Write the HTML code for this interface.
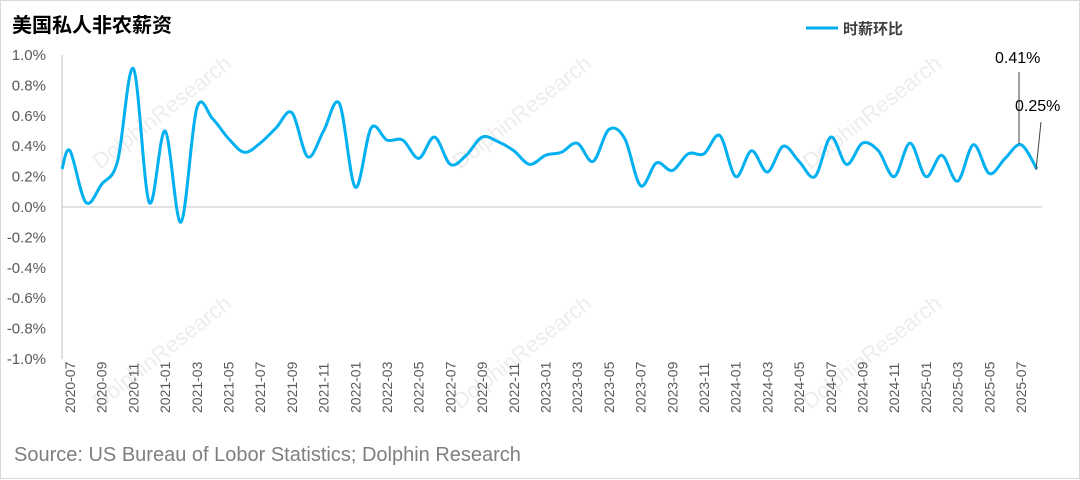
<!DOCTYPE html>
<html><head><meta charset="utf-8"><style>
html,body{margin:0;padding:0;background:#fff}
svg{display:block}
</style></head><body>
<svg id="c" width="1080" height="480" xmlns="http://www.w3.org/2000/svg" font-family="Liberation Sans, Noto Sans CJK SC, sans-serif">
<rect x="0.5" y="0.5" width="1079" height="478" fill="#fff" stroke="#d9d9d9"/>
<text x="12" y="32" font-size="20" font-weight="bold" fill="#000" font-family="Liberation Sans, Noto Sans CJK SC, sans-serif">美国私人非农薪资</text>
<line x1="806" y1="28" x2="838" y2="28" stroke="#00b0f0" stroke-width="3"/>
<text x="843" y="34" font-size="15" font-weight="bold" fill="#404040">时薪环比</text>
<g id="wm" fill="#ededed" font-size="22"></g>
<line x1="62" y1="207" x2="1042" y2="207" stroke="#d9d9d9" stroke-width="1.5"/>
<line x1="62" y1="55" x2="62" y2="359" stroke="#bfbfbf"/>
<g id="yl" font-size="15" fill="#595959" text-anchor="end"></g>
<g id="xl" font-size="14" fill="#595959"></g>
<path id="ln" fill="none" stroke="#00b0f0" stroke-width="3" stroke-linejoin="round"/>
<line x1="1019" y1="144" x2="1019" y2="72" stroke="#404040"/>
<line x1="1036" y1="170" x2="1041" y2="122" stroke="#404040"/>
<text x="995" y="63" font-size="16" fill="#000">0.41%</text>
<text x="1015" y="111" font-size="16" fill="#000">0.25%</text>
<text x="14" y="461" font-size="20" fill="#7f7f7f">Source: US Bureau of Lobor Statistics; Dolphin Research</text>
</svg>
<script>
var NS="http://www.w3.org/2000/svg";
function Y(v){return 207-v*152;}
var yl=document.getElementById('yl');
for(var k=-5;k<=5;k++){var v=k*0.2;var t=document.createElementNS(NS,'text');
t.setAttribute('x',46);t.setAttribute('y',Y(v)+5);t.textContent=v.toFixed(1)+'%';yl.appendChild(t);}
var xl=document.getElementById('xl');
for(var i=0;i<=60;i+=2){var m=7+i,yr=2020+Math.floor((m-1)/12),mo=((m-1)%12)+1;
var x=70+15.85*i+5;var t=document.createElementNS(NS,'text');
t.setAttribute('transform','translate('+x+',413) rotate(-90)');t.textContent=yr+'-'+(mo<10?'0':'')+mo;xl.appendChild(t);}
var d=[0.37,0.03,0.15,0.3,0.91,0.03,0.5,-0.1,0.65,0.58,0.45,0.36,0.42,0.52,0.62,0.33,0.5,0.68,0.13,0.52,0.44,0.44,0.32,0.46,0.28,0.34,0.46,0.43,0.37,0.28,0.34,0.36,0.42,0.3,0.51,0.45,0.14,0.29,0.24,0.35,0.35,0.47,0.2,0.37,0.23,0.4,0.3,0.2,0.46,0.28,0.42,0.37,0.2,0.42,0.2,0.34,0.17,0.41,0.22,0.32,0.41,0.25];
var p=[[62,Y(0.25)]];for(var i=0;i<d.length;i++)p.push([70+15.85*i,Y(d[i])]);
var s='M'+p[0][0]+','+p[0][1];
for(var i=0;i<p.length-1;i++){var p0=p[i-1]||p[i],p1=p[i],p2=p[i+1],p3=p[i+2]||p2;
var c1=[p1[0]+(p2[0]-p0[0])/6,p1[1]+(p2[1]-p0[1])/6],c2=[p2[0]-(p3[0]-p1[0])/6,p2[1]-(p3[1]-p1[1])/6];
s+='C'+c1.join(',')+' '+c2.join(',')+' '+p2.join(',');}
document.getElementById('ln').setAttribute('d',s);
var wm=document.getElementById('wm');
[[200,170],[560,170],[910,170],[200,410],[560,410],[910,410]].forEach(function(q){
var t=document.createElementNS(NS,'text');t.setAttribute('transform','translate('+(q[0]-100)+','+q[1]+') rotate(-38)');t.textContent='DolphinResearch';wm.appendChild(t);});
</script>
</body></html>
